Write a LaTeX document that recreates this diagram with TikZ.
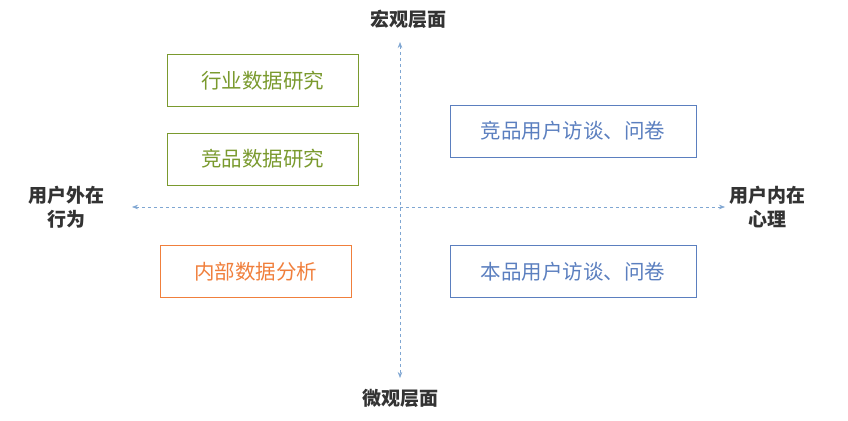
\documentclass[tikz,border=0pt]{standalone}
\usepackage{fontspec}
\newfontfamily\cjk{Noto Sans CJK SC}
\newfontfamily\cjkm{Noto Sans CJK SC Medium}
\usetikzlibrary{arrows.meta}
\definecolor{gr}{HTML}{7A9A2E}
\definecolor{bl}{HTML}{5B7FBF}
\definecolor{orr}{HTML}{F07F3C}
\definecolor{ax}{HTML}{7FA6D2}
\tikzset{box/.style={draw,semithick,minimum width=#1,minimum height=52pt,font=\cjk\fontsize{20.5}{22}\selectfont,inner sep=0pt},
lab/.style={font=\cjk\bfseries\fontsize{19}{24}\selectfont,align=center,text=black!80},
axis/.style={ax,dashed,semithick,{Stealth[length=6pt]}-{Stealth[length=6pt]}}}
\begin{document}
\begin{tikzpicture}[x=1pt,y=-1pt]
\useasboundingbox (0,0) rectangle (848,420);
\coordinate (t) at (400,42); \coordinate (b) at (400,378);
\coordinate (l) at (132,207); \coordinate (r) at (725,207);
\draw[axis] (t) -- (b);
\draw[axis] (l) -- (r);
\node[lab] (top) at (408,19) {宏观层面};
\node[lab] (bot) at (400,398) {微观层面};
\node[lab] (lft) at (66,207) {用户外在\\行为};
\node[lab] (rgt) at (767,207) {用户内在\\心理};
\node[box=191pt,draw=gr,text=gr] (a) at (262.5,80.5) {行业数据研究};
\node[box=191pt,draw=gr,text=gr] (c) at (262.5,159) {竞品数据研究};
\node[box=191pt,draw=orr,text=orr] (d) at (255.5,271.5) {内部数据分析};
\node[box=246pt,draw=bl,text=bl] (e) at (573,131) {竞品用户访谈、问卷};
\node[box=246pt,draw=bl,text=bl] (f) at (573,271.5) {本品用户访谈、问卷};
\end{tikzpicture}
\end{document}
